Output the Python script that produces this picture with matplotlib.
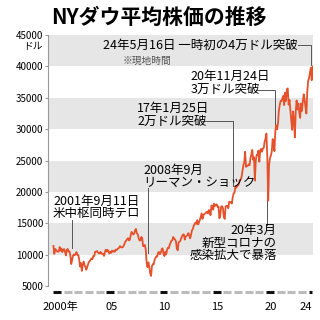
import matplotlib
matplotlib.use('Agg')
import matplotlib.pyplot as plt
import numpy as np

plt.rcParams['font.family'] = ['Noto Sans CJK JP', 'DejaVu Sans']

# NY Dow monthly values 2000/01 - 2024/05 (extremes kept)
dow_2000s = [
    11400, 10128, 10922, 10734, 10522, 10448, 10522, 11215, 10651, 10971, 10415, 10788,
    10887, 10495, 9879, 10735, 10912, 10502, 10523, 9950, 8500, 9075, 9852, 10022,
    9920, 10106, 10404, 9946, 9925, 9243, 8100, 8664, 7400, 8397, 8896, 8342,
    8054, 7600, 7992, 8480, 8850, 8985, 9234, 9416, 9275, 9801, 9782, 10454,
    10488, 10584, 10358, 10226, 10188, 10435, 10140, 10174, 10080, 9800, 10428, 10783,
    10490, 10766, 10504, 10193, 10467, 10275, 10641, 10482, 10569, 10440, 10806, 10718,
    10865, 10993, 11109, 11367, 11168, 11150, 11186, 11381, 11679, 12081, 12222, 12463,
    12622, 12269, 12354, 13063, 13628, 13409, 13212, 13358, 13896, 14100, 13372, 13265,
    12650, 12266, 12263, 12820, 12638, 11350, 11378, 11544, 10851, 8700, 8000, 8776,
    8001, 7063, 6600, 8168, 8500, 8447, 9172, 9496, 9712, 9713, 10345, 10428,
]
dow_2010s = [
    10067, 10325, 10857, 11009, 10137, 9774, 10466, 10015, 10788, 11118, 11006, 11578,
    11892, 12226, 12320, 12811, 12570, 12414, 12143, 11000, 10700, 11955, 12046, 12218,
    12633, 12952, 13212, 13214, 12393, 12880, 13009, 13091, 13437, 13096, 12600, 13104,
    13861, 14054, 14579, 14840, 15116, 14910, 15500, 14810, 15130, 15546, 16086, 16577,
    15699, 16322, 16458, 16581, 16717, 16827, 16563, 17098, 17043, 16300, 17828, 17823,
    17165, 18133, 17776, 17841, 18011, 17620, 17690, 15800, 16285, 17664, 17720, 17425,
    16000, 15700, 17685, 17774, 17787, 17400, 18432, 18401, 18308, 18142, 19124, 19763,
    19864, 20812, 20663, 20941, 21009, 21350, 21891, 21948, 22405, 23377, 24272, 24719,
    26400, 24000, 24103, 24163, 24416, 24271, 25415, 25965, 26700, 25116, 25538, 21800,
    24999, 25916, 25929, 26593, 24815, 26600, 26864, 26403, 26917, 27046, 28051, 28538,
]
dow_2020s = [
    29300, 25409, 18600, 24346, 25383, 25813, 26428, 28430, 27782, 26502, 29638, 30606,
    29983, 30932, 32982, 33875, 34529, 34503, 34935, 35361, 33844, 35820, 34484, 36338,
    36500, 33893, 34678, 32977, 31300, 29900, 32845, 31510, 28700, 32733, 34590, 33147,
    34086, 32657, 31800, 34098, 32908, 34408, 35560, 34722, 33508, 32500, 35951, 37690,
    38150, 38996, 39807, 37816, 40000,
]
dow = dow_2000s + dow_2010s + dow_2020s
months = 2000 + (np.arange(len(dow)) + 0.5) / 12

bands = [(10000, 15000), (20000, 25000), (30000, 35000), (40000, 45000)]
yticks = [5000, 10000, 15000, 20000, 25000, 30000, 35000, 40000, 45000]
year_labels = ['2000年', '05', '10', '15', '20', '24']
year_label_pos = [2000.7, 2005.5, 2010.45, 2015.45, 2020.45, 2023.7]

red = '#e5512b'
grey = '#e6e6e6'

fig = plt.figure(figsize=(3.2, 3.2), dpi=100)
ax = fig.add_axes([0.15, 0.10625, 0.828, 0.784])
ax.set_xlim(1999.53, 2024.41)
ax.set_ylim(5000, 45000)

for lo, hi in bands:
    ax.axhspan(lo, hi, color=grey, lw=0, zorder=0)

ax.plot(months, dow, color=red, lw=1.3, zorder=3)

for s in ['top', 'right', 'bottom']:
    ax.spines[s].set_visible(False)
ax.spines['left'].set_color('#999999')
ax.spines['left'].set_linewidth(0.8)
ax.set_yticks(yticks)
ax.set_yticklabels([str(v) for v in yticks])
ax.tick_params(axis='y', length=2.5, width=0.8, color='#999999', labelsize=7, pad=1)
ax.set_xticks([])

# year bar under the plot
for yr in range(2000, 2025):
    end = yr + 0.3 if yr == 2024 else yr + 0.75
    c = '#111111' if yr % 5 == 0 or yr == 2024 else '#bbbbbb'
    ax.plot([yr, end], [4000, 4000], color=c, lw=2.2, solid_capstyle='butt',
            clip_on=False)
for lab, xp in zip(year_labels, year_label_pos):
    ax.text(xp, 1650, lab, ha='center', va='center', fontsize=8, clip_on=False)

ax.text(-0.02, 0.955, 'ドル', transform=ax.transAxes, ha='right', va='center',
        fontsize=7)

fig.text(0.495, 0.947, 'NYダウ平均株価の推移', ha='center', va='center',
         fontsize=15, fontweight='bold')

fs = 9
ls = 0.95
lc = '#555555'
lw = 0.7

# 24/5/16
ax.text(2004.7, 43400, '24年5月16日 一時初の4万ドル突破', fontsize=fs, va='center')
ax.plot([2023.0, 2024.2, 2024.2], [43400, 43400, 40200], color=lc, lw=lw)
ax.text(2006.5, 40860, '※現地時間', fontsize=7, va='center', color='#555555')

# 20/11/24
ax.text(2012.9, 37350, '20年11月24日\n3万ドル突破', fontsize=fs, va='center',
        linespacing=ls)
ax.plot([2019.1, 2020.85, 2020.85], [36300, 36300, 30200], color=lc, lw=lw)

# 17/1/25
ax.text(2007.9, 32250, '17年1月25日\n2万ドル突破', fontsize=fs, va='center',
        linespacing=ls)
ax.plot([2014.0, 2016.9, 2016.9], [31300, 31300, 21000], color=lc, lw=lw)

# 2008/9
ax.text(2008.45, 22450, '2008年9月\nリーマン・ショック', fontsize=fs, va='center',
        linespacing=ls)
ax.plot([2008.92, 2008.92], [20700, 10200], color=lc, lw=lw)

# 2001/9/11
ax.text(2000.0, 17510, '2001年9月11日\n米中枢同時テロ', fontsize=fs, va='center',
        linespacing=ls)
ax.plot([2001.78, 2001.78], [15600, 11000], color=lc, lw=lw)

# 2020/3
ax.text(2021.03, 11850, '20年3月\n新型コロナの\n感染拡大で暴落', fontsize=fs,
        va='center', ha='right', linespacing=ls)
ax.plot([2020.09, 2020.09], [18700, 14720], color=lc, lw=lw)

fig.savefig('out.png', dpi=100)
